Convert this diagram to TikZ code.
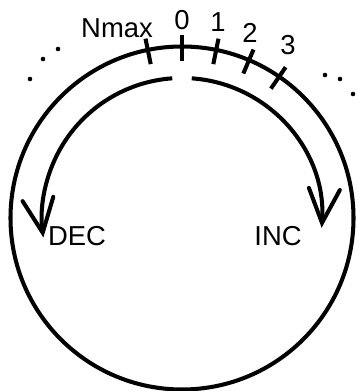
\documentclass[tikz,border=0pt]{standalone}
\usepackage{fontspec}
\setmainfont{Liberation Sans}
\usetikzlibrary{arrows.meta}

\begin{document}
\begin{tikzpicture}[
    x=0.02cm, y=0.02cm,
    ring/.style={line width=2.3pt},
    ticktmark/.style={line width=2.3pt},
    turn/.style={
        line width=2.3pt,
        -{Straight Barb[length=0.68cm, width=0.62cm, line cap=round]}
    },
    lbl/.style={font=\fontsize{15.6}{18}\selectfont, inner sep=0pt},
    dot/.style={circle, fill=black, inner sep=0pt, minimum size=2.6pt},
]

\useasboundingbox (-182,-173) rectangle (176,218);

% Counter ring
\draw[ring] (0,0) circle (171.5);

% Ticks on the ring
\draw[ticktmark] (101.5:157) -- (101.5:183);
\draw[ticktmark] (90:157) -- (90:183);
\draw[ticktmark] (78.5:157) -- (78.5:183);
\draw[ticktmark] (67:157) -- (67:183);
\draw[ticktmark] (55.5:157) -- (55.5:183);

% Tick labels
\node[lbl] (nmax) at (-65,190) {Nmax};
\node[lbl] (zero) at (0,198) {0};
\node[lbl] (one) at (36,196) {1};
\node[lbl] (two) at (68,185) {2};
\node[lbl] (three) at (106,173) {3};

% Ellipsis dots
\node[dot] (dotl1) at (-152,139) {};
\node[dot] (dotl2) at (-139,159) {};
\node[dot] (dotl3) at (-124,169) {};
\node[dot] (dotr1) at (143,143) {};
\node[dot] (dotr2) at (158,139) {};
\node[dot] (dotr3) at (171,124) {};

% Count direction
\draw[turn] (94:140) arc (94:188:140);
\draw[turn] (86:140) arc (86:-4:140);

\node[lbl] (dec) at (-105,-18) {DEC};
\node[lbl] (inc) at (96,-18) {INC};

\end{tikzpicture}
\end{document}
